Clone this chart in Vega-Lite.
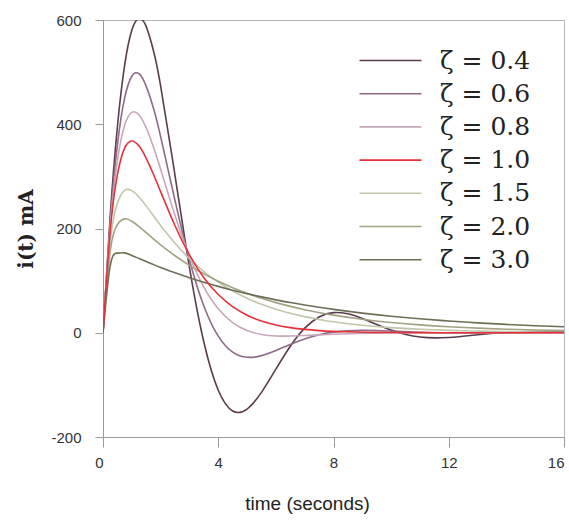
{
  "$schema": "https://vega.github.io/schema/vega-lite/v6.json",
  "width": 461,
  "height": 417,
  "autosize": {"type": "none"},
  "padding": {"left": 103, "top": 20, "right": 5, "bottom": 84},
  "background": "white",
  "config": {
    "view": {"stroke": "#b5b5b5", "strokeWidth": 1},
    "axis": {
      "grid": false,
      "domainColor": "#9a9a9a",
      "tickColor": "#9a9a9a",
      "labelFont": "Liberation Sans",
      "labelFontSize": 15,
      "labelColor": "#333333",
      "titleColor": "#222222"
    }
  },
  "datasets": {
    "curves": [
      {"t":0,"i":0,"z":"0.4"},{"t":0.25,"i":224.2,"z":"0.4"},{"t":0.5,"i":395.2,"z":"0.4"},{"t":0.75,"i":512.9,"z":"0.4"},{"t":1,"i":580.3,"z":"0.4"},{"t":1.25,"i":602.9,"z":"0.4"},{"t":1.5,"i":587.3,"z":"0.4"},{"t":1.75,"i":541.5,"z":"0.4"},{"t":2,"i":473.5,"z":"0.4"},{"t":2.5,"i":301.6,"z":"0.4"},{"t":3,"i":125.6,"z":"0.4"},{"t":3.5,"i":-17.8,"z":"0.4"},{"t":4,"i":-110.3,"z":"0.4"},{"t":4.5,"i":-150.1,"z":"0.4"},{"t":5,"i":-146.4,"z":"0.4"},{"t":5.5,"i":-114.4,"z":"0.4"},{"t":6,"i":-69.9,"z":"0.4"},{"t":6.5,"i":-25.9,"z":"0.4"},{"t":7,"i":8.8,"z":"0.4"},{"t":7.5,"i":30.3,"z":"0.4"},{"t":8,"i":38.6,"z":"0.4"},{"t":8.5,"i":36.3,"z":"0.4"},{"t":9,"i":27.5,"z":"0.4"},{"t":10,"i":5.1,"z":"0.4"},{"t":11,"i":-8.2,"z":"0.4"},{"t":12,"i":-9.0,"z":"0.4"},{"t":13,"i":-3.7,"z":"0.4"},{"t":14,"i":1.1,"z":"0.4"},{"t":15,"i":2.5,"z":"0.4"},{"t":16,"i":1.6,"z":"0.4"},
      {"t":0,"i":0,"z":"0.6"},{"t":0.25,"i":213.7,"z":"0.6"},{"t":0.5,"i":360.6,"z":"0.6"},{"t":0.75,"i":450.0,"z":"0.6"},{"t":1,"i":492.1,"z":"0.6"},{"t":1.25,"i":496.9,"z":"0.6"},{"t":1.5,"i":472.6,"z":"0.6"},{"t":1.75,"i":431.1,"z":"0.6"},{"t":2,"i":376.3,"z":"0.6"},{"t":2.5,"i":253.6,"z":"0.6"},{"t":3,"i":139.6,"z":"0.6"},{"t":3.5,"i":51.3,"z":"0.6"},{"t":4,"i":-6.6,"z":"0.6"},{"t":4.5,"i":-37.2,"z":"0.6"},{"t":5,"i":-47.1,"z":"0.6"},{"t":5.5,"i":-43.9,"z":"0.6"},{"t":6,"i":-34.0,"z":"0.6"},{"t":6.5,"i":-22.4,"z":"0.6"},{"t":7,"i":-11.8,"z":"0.6"},{"t":7.5,"i":-3.9,"z":"0.6"},{"t":8,"i":1.2,"z":"0.6"},{"t":9,"i":4.5,"z":"0.6"},{"t":10,"i":3.1,"z":"0.6"},{"t":11,"i":1.0,"z":"0.6"},{"t":12,"i":-0.2,"z":"0.6"},{"t":13,"i":-0.4,"z":"0.6"},{"t":14,"i":-0.3,"z":"0.6"},{"t":15,"i":-0.1,"z":"0.6"},{"t":16,"i":0,"z":"0.6"},
      {"t":0,"i":0,"z":"0.8"},{"t":0.25,"i":203.9,"z":"0.8"},{"t":0.5,"i":330.2,"z":"0.8"},{"t":0.75,"i":397.9,"z":"0.8"},{"t":1,"i":422.8,"z":"0.8"},{"t":1.25,"i":417.9,"z":"0.8"},{"t":1.5,"i":393.2,"z":"0.8"},{"t":1.75,"i":356.5,"z":"0.8"},{"t":2,"i":313.6,"z":"0.8"},{"t":2.5,"i":225.0,"z":"0.8"},{"t":3,"i":147.2,"z":"0.8"},{"t":3.5,"i":87.5,"z":"0.8"},{"t":4,"i":45.9,"z":"0.8"},{"t":4.5,"i":19.5,"z":"0.8"},{"t":5,"i":4.3,"z":"0.8"},{"t":5.5,"i":-3.2,"z":"0.8"},{"t":6,"i":-6.1,"z":"0.8"},{"t":6.5,"i":-6.3,"z":"0.8"},{"t":7,"i":-5.4,"z":"0.8"},{"t":7.5,"i":-4.0,"z":"0.8"},{"t":8,"i":-2.8,"z":"0.8"},{"t":9,"i":-1.0,"z":"0.8"},{"t":10,"i":-0.2,"z":"0.8"},{"t":11,"i":0.1,"z":"0.8"},{"t":12,"i":0,"z":"0.8"},{"t":13,"i":0,"z":"0.8"},{"t":14,"i":0,"z":"0.8"},{"t":15,"i":0,"z":"0.8"},{"t":16,"i":0,"z":"0.8"},
      {"t":0,"i":0,"z":"1.5"},{"t":0.25,"i":174.1,"z":"1.5"},{"t":0.5,"i":248.7,"z":"1.5"},{"t":0.75,"i":273.0,"z":"1.5"},{"t":1,"i":272.6,"z":"1.5"},{"t":1.25,"i":260.5,"z":"1.5"},{"t":1.5,"i":243.4,"z":"1.5"},{"t":1.75,"i":224.6,"z":"1.5"},{"t":2,"i":205.9,"z":"1.5"},{"t":2.5,"i":171.5,"z":"1.5"},{"t":3,"i":142.0,"z":"1.5"},{"t":3.5,"i":117.4,"z":"1.5"},{"t":4,"i":97.0,"z":"1.5"},{"t":4.5,"i":80.2,"z":"1.5"},{"t":5,"i":66.2,"z":"1.5"},{"t":5.5,"i":54.7,"z":"1.5"},{"t":6,"i":45.2,"z":"1.5"},{"t":6.5,"i":37.3,"z":"1.5"},{"t":7,"i":30.9,"z":"1.5"},{"t":7.5,"i":25.5,"z":"1.5"},{"t":8,"i":21.1,"z":"1.5"},{"t":9,"i":14.4,"z":"1.5"},{"t":10,"i":9.8,"z":"1.5"},{"t":11,"i":6.7,"z":"1.5"},{"t":12,"i":4.6,"z":"1.5"},{"t":13,"i":3.1,"z":"1.5"},{"t":14,"i":2.1,"z":"1.5"},{"t":15,"i":1.5,"z":"1.5"},{"t":16,"i":1.0,"z":"1.5"},
      {"t":0,"i":0,"z":"2.0"},{"t":0.25,"i":156.4,"z":"2.0"},{"t":0.5,"i":207.8,"z":"2.0"},{"t":0.75,"i":218.5,"z":"2.0"},{"t":1,"i":213.9,"z":"2.0"},{"t":1.25,"i":203.8,"z":"2.0"},{"t":1.5,"i":192.1,"z":"2.0"},{"t":1.75,"i":180.2,"z":"2.0"},{"t":2,"i":168.8,"z":"2.0"},{"t":2.5,"i":147.7,"z":"2.0"},{"t":3,"i":129.2,"z":"2.0"},{"t":3.5,"i":113.0,"z":"2.0"},{"t":4,"i":98.8,"z":"2.0"},{"t":4.5,"i":86.4,"z":"2.0"},{"t":5,"i":75.6,"z":"2.0"},{"t":5.5,"i":66.1,"z":"2.0"},{"t":6,"i":57.8,"z":"2.0"},{"t":6.5,"i":50.6,"z":"2.0"},{"t":7,"i":44.2,"z":"2.0"},{"t":7.5,"i":38.7,"z":"2.0"},{"t":8,"i":33.8,"z":"2.0"},{"t":9,"i":25.9,"z":"2.0"},{"t":10,"i":19.8,"z":"2.0"},{"t":11,"i":15.1,"z":"2.0"},{"t":12,"i":11.6,"z":"2.0"},{"t":13,"i":8.9,"z":"2.0"},{"t":14,"i":6.8,"z":"2.0"},{"t":15,"i":5.2,"z":"2.0"},{"t":16,"i":4.0,"z":"2.0"},
      {"t":0,"i":0,"z":"3.0"},{"t":0.25,"i":128.2,"z":"3.0"},{"t":0.5,"i":152.7,"z":"3.0"},{"t":0.75,"i":153.2,"z":"3.0"},{"t":1,"i":148.4,"z":"3.0"},{"t":1.25,"i":142.5,"z":"3.0"},{"t":1.5,"i":136.6,"z":"3.0"},{"t":1.75,"i":130.9,"z":"3.0"},{"t":2,"i":125.4,"z":"3.0"},{"t":2.5,"i":115.1,"z":"3.0"},{"t":3,"i":105.7,"z":"3.0"},{"t":3.5,"i":97.0,"z":"3.0"},{"t":4,"i":89.0,"z":"3.0"},{"t":4.5,"i":81.7,"z":"3.0"},{"t":5,"i":75.0,"z":"3.0"},{"t":5.5,"i":68.8,"z":"3.0"},{"t":6,"i":63.1,"z":"3.0"},{"t":6.5,"i":58.0,"z":"3.0"},{"t":7,"i":53.2,"z":"3.0"},{"t":7.5,"i":48.8,"z":"3.0"},{"t":8,"i":44.8,"z":"3.0"},{"t":9,"i":37.7,"z":"3.0"},{"t":10,"i":31.8,"z":"3.0"},{"t":11,"i":26.8,"z":"3.0"},{"t":12,"i":22.6,"z":"3.0"},{"t":13,"i":19.0,"z":"3.0"},{"t":14,"i":16.0,"z":"3.0"},{"t":15,"i":13.5,"z":"3.0"},{"t":16,"i":11.4,"z":"3.0"},
      {"t":0,"i":0,"z":"1.0"},{"t":0.25,"i":194.7,"z":"1.0"},{"t":0.5,"i":303.3,"z":"1.0"},{"t":0.75,"i":354.3,"z":"1.0"},{"t":1,"i":367.9,"z":"1.0"},{"t":1.25,"i":358.1,"z":"1.0"},{"t":1.5,"i":334.7,"z":"1.0"},{"t":1.75,"i":304.1,"z":"1.0"},{"t":2,"i":270.7,"z":"1.0"},{"t":2.5,"i":205.2,"z":"1.0"},{"t":3,"i":149.4,"z":"1.0"},{"t":3.5,"i":105.7,"z":"1.0"},{"t":4,"i":73.3,"z":"1.0"},{"t":4.5,"i":50.0,"z":"1.0"},{"t":5,"i":33.7,"z":"1.0"},{"t":5.5,"i":22.5,"z":"1.0"},{"t":6,"i":14.9,"z":"1.0"},{"t":6.5,"i":9.8,"z":"1.0"},{"t":7,"i":6.4,"z":"1.0"},{"t":7.5,"i":4.1,"z":"1.0"},{"t":8,"i":2.7,"z":"1.0"},{"t":9,"i":1.1,"z":"1.0"},{"t":10,"i":0.5,"z":"1.0"},{"t":11,"i":0.2,"z":"1.0"},{"t":12,"i":0.1,"z":"1.0"},{"t":13,"i":0,"z":"1.0"},{"t":14,"i":0,"z":"1.0"},{"t":15,"i":0,"z":"1.0"},{"t":16,"i":0,"z":"1.0"}
    ]
  },
  "data": {"name": "curves"},
  "mark": {"type": "line", "interpolate": "natural", "clip": true},
  "encoding": {
    "x": {
      "field": "t", "type": "quantitative",
      "scale": {"domain": [0, 16], "nice": false, "zero": false},
      "axis": {
        "values": [0, 4, 8, 12, 16],
        "title": "time (seconds)",
        "titleFont": "Liberation Sans",
        "titleFontSize": 19,
        "titleFontWeight": "normal",
        "titlePadding": 24,
        "titleX": 204,
        "titleAlign": "center",
        "tickSize": 10,
        "labelPadding": 8,
        "labelFlush": false,
        "labelAlign": {"condition": {"test": "datum.value == 0 || datum.value == 16", "value": "right"}, "value": "center"}
      }
    },
    "y": {
      "field": "i", "type": "quantitative",
      "scale": {"domain": [-200, 600], "nice": false, "zero": false},
      "axis": {
        "values": [-200, 0, 200, 400, 600],
        "labelExpr": "'' + datum.value",
        "title": "i(t) mA",
        "titleFont": "DejaVu Serif",
        "titleFontSize": 20,
        "titleFontWeight": "bold",
        "titlePadding": 14,
        "tickSize": 8,
        "labelPadding": 14
      }
    },
    "color": {
      "field": "z", "type": "ordinal",
      "scale": {
        "domain": ["0.4", "0.6", "0.8", "1.0", "1.5", "2.0", "3.0"],
        "range": ["#5a3c4e", "#8e6a86", "#c6a6ba", "#e8303a", "#c2c6aa", "#a2a282", "#6e6e56"]
      },
      "legend": {
        "orient": "none",
        "legendX": 275,
        "legendY": 28,
        "title": null,
        "padding": 0,
        "symbolType": "M-3.1,0H3.1",
        "symbolSize": 400,
        "symbolStrokeWidth": 1.8,
        "labelFont": "DejaVu Serif",
        "labelFontSize": 25,
        "labelColor": "#222222",
        "labelOffset": 37,
        "rowPadding": 7.2,
        "labelExpr": "'ζ = ' + datum.label"
      }
    },
    "strokeWidth": {
      "field": "z", "type": "ordinal",
      "scale": {
        "domain": ["0.4", "0.6", "0.8", "1.0", "1.5", "2.0", "3.0"],
        "range": [1.6, 1.6, 1.6, 3, 1.6, 1.6, 1.6]
      }
    }
  }
}
